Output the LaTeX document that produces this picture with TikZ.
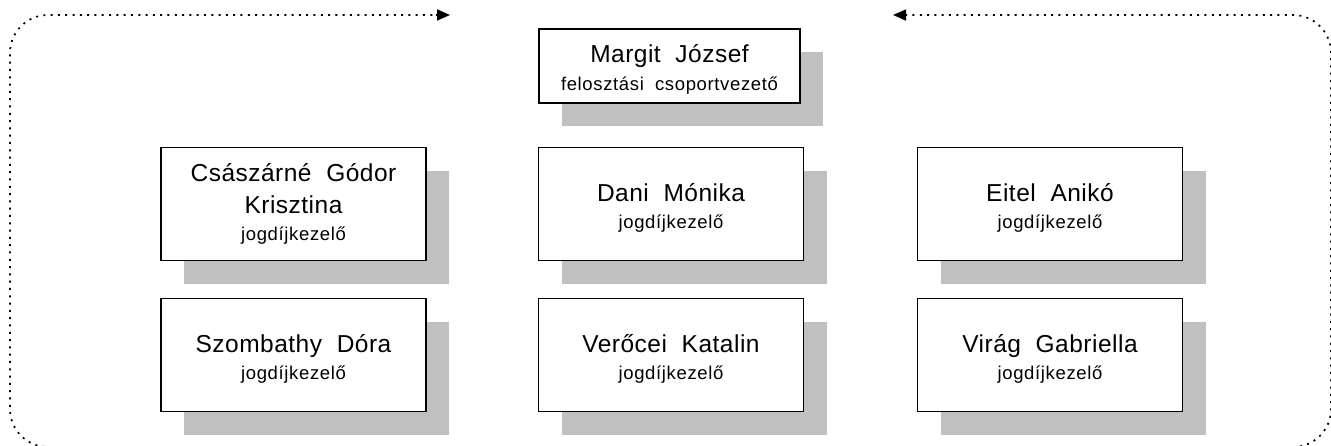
\documentclass[tikz,border=0pt]{standalone}
\usepackage{fontspec}
\setmainfont{Liberation Sans}
\newfontfamily\namefont[LetterSpace=2]{Liberation Sans}
\newfontfamily\subfontfam[LetterSpace=3.5]{Liberation Sans}
\newcommand{\subtl}[1]{{\subfontfam\fontsize{18.5}{28}\selectfont #1}}
\newcommand{\wsp}{\hspace{0.6em}}
\newcommand{\tstrut}{\rule{0pt}{25pt}}
\usetikzlibrary{shadows,arrows.meta}
\definecolor{shadowgray}{RGB}{192,192,192}
\tikzset{
  person/.style={draw=black, line width=1.6pt, fill=white, rectangle, inner sep=0pt,
    minimum width=265pt, minimum height=113pt, align=center,
    font=\namefont\fontsize{24.5}{32}\selectfont,
    drop shadow={shadow xshift=23pt, shadow yshift=-23pt, opacity=1, fill=shadowgray, draw=none}},
  chief/.style={person, minimum width=261pt, minimum height=74pt},
  dotline/.style={line width=1.7pt, dash pattern=on 2pt off 5.3pt, rounded corners=38pt},
  tip/.style={-{Triangle[length=13pt,width=11pt]}}
}
\begin{document}
\begin{tikzpicture}[x=1pt,y=-1pt]
\useasboundingbox (0,0) rectangle (1331,445);
\begin{scope}
\clip (0,0) rectangle (1331,445);
\coordinate (bm) at (665,447);
\coordinate (tl) at (10,15);
\coordinate (tr) at (1331,15);
\coordinate (la) at (450,15);
\coordinate (ra) at (893,15);
\draw[dotline] (bm) -| (tl) -- ([xshift=-13pt]la);
\draw[dotline] (bm) -| (tr) -- ([xshift=13pt]ra);
\draw[tip, line width=1.6pt] ([xshift=-14pt]la) -- (la);
\draw[tip, line width=1.6pt] ([xshift=14pt]ra) -- (ra);
\end{scope}
\node[chief] (margit) at (669.5,66) {\tstrut Margit\wsp József\\[-4pt]\subtl{felosztási\wsp csoportvezető}};
\node[person] (csasz) at (293.5,204) {Császárné\wsp Gódor\\Krisztina\\[-5pt]\subtl{jogdíjkezelő}};
\node[person] (dani) at (671,204) {\tstrut Dani\wsp Mónika\\[-5pt]\subtl{jogdíjkezelő}};
\node[person] (eitel) at (1050,204) {\tstrut Eitel\wsp Anikó\\[-5pt]\subtl{jogdíjkezelő}};
\node[person] (szomb) at (293.5,355) {\tstrut Szombathy\wsp Dóra\\[-5pt]\subtl{jogdíjkezelő}};
\node[person] (veroc) at (671,355) {\tstrut Verőcei\wsp Katalin\\[-5pt]\subtl{jogdíjkezelő}};
\node[person] (virag) at (1050,355) {\tstrut Virág\wsp Gabriella\\[-5pt]\subtl{jogdíjkezelő}};
\end{tikzpicture}
\end{document}
